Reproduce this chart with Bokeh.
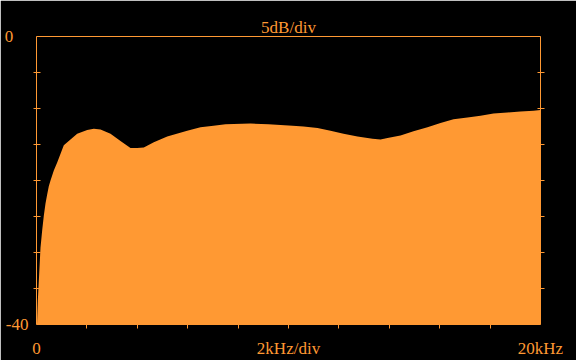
from bokeh.plotting import figure
from bokeh.models import Range1d, FixedTicker, LinearAxis
from bokeh.embed import file_html
from bokeh.resources import INLINE

# Frequency (kHz) and level (dB)
freq_khz = [0.0, 0.02, 0.052, 0.107, 0.159, 0.226, 0.290, 0.357, 0.425, 0.488, 0.556,
            0.687, 0.821, 1.083, 1.349, 1.615, 2.012, 2.274, 2.540, 2.937, 3.333,
            3.730, 3.996, 4.258, 4.655, 5.187, 5.980, 6.508, 7.024, 7.500, 8.492,
            9.206, 10.159, 10.595, 11.151, 11.667, 12.183, 12.738, 13.333, 13.651,
            13.929, 14.444, 14.960, 15.516, 16.032, 16.548, 17.103, 17.619, 18.135,
            18.690, 19.206, 19.722, 20.0]
level_db = [-40.0, -40.0, -36.7, -32.9, -29.3, -26.9, -24.9, -23.2, -21.9, -20.8, -20.0,
            -18.6, -17.5, -15.1, -14.3, -13.5, -13.0, -12.8, -12.9, -13.5, -14.5,
            -15.5, -15.5, -15.4, -14.7, -13.9, -13.1, -12.6, -12.4, -12.2, -12.1,
            -12.2, -12.4, -12.5, -12.7, -13.1, -13.5, -13.9, -14.2, -14.3,
            -14.1, -13.75, -13.15, -12.6, -12.0, -11.5, -11.25, -11.0, -10.7,
            -10.55, -10.4, -10.3, -10.2]

y_div_ticks = [-35, -30, -25, -20, -15, -10, -5]
x_div_ticks = [2, 4, 6, 8, 10, 12, 14, 16, 18]
y_label_ticks = {0: "0\u2002\u2009\u2009", -40: "-40"}
x_label_ticks = {0: "0", 10: "2kHz/div", 20: "20kHz"}
top_label = {10: "5dB/div"}
x_min, x_max = 0, 20
y_min, y_max = -40, 0

ORANGE = "#ff9933"
FONT = "Liberation Serif"
FS = "17px"

p = figure(width=576, height=360, output_backend="svg", toolbar_location=None,
           x_range=Range1d(x_min, x_max), y_range=Range1d(y_min, y_max),
           x_axis_location=None, y_axis_location=None,
           min_border_left=36, min_border_right=36, min_border_top=36, min_border_bottom=36)
p.background_fill_color = "black"
p.border_fill_color = "black"
p.outline_line_color = ORANGE
p.outline_line_width = 1
p.grid.visible = False

p.varea(x=freq_khz, y1=[y_min] * len(freq_khz), y2=level_db, fill_color=ORANGE)

def make_axis(loc, labels, minor, tin, tout, standoff):
    ax = LinearAxis()
    ax.ticker = FixedTicker(ticks=list(labels.keys()), minor_ticks=minor)
    ax.major_label_overrides = labels
    ax.axis_line_color = None
    ax.major_tick_line_color = None
    ax.major_tick_in = 0
    ax.major_tick_out = 0
    ax.minor_tick_line_color = ORANGE
    ax.minor_tick_line_width = 1
    ax.minor_tick_in = tin
    ax.minor_tick_out = tout
    ax.major_label_text_font = FONT
    ax.major_label_text_font_size = FS
    ax.major_label_text_color = ORANGE
    ax.major_label_standoff = standoff
    p.add_layout(ax, loc)
    return ax

make_axis("left", y_label_ticks, y_div_ticks, 4, 3, 5)
make_axis("right", {}, y_div_ticks, 3, 4, 0)
make_axis("below", x_label_ticks, x_div_ticks, 0, 4, 10)
make_axis("above", top_label, [], 0, 0, 0)

open("out.html", "w").write(file_html(p, INLINE))
